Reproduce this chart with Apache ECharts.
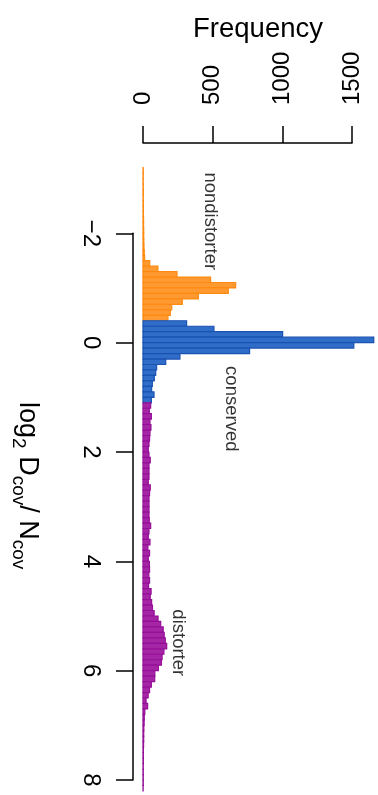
<!DOCTYPE html>
<html>
<head>
<meta charset="utf-8">
<script src="https://cdn.jsdelivr.net/npm/echarts@6/dist/echarts.min.js"></script>
<style>
  html, body { margin: 0; padding: 0; background: #fff; }
  #chart { width: 378px; height: 795px; }
</style>
</head>
<body>
<div id="chart"></div>
<script>
// histogram bins are 0.1 wide on log2(Dcov/Ncov)
var binWidth = 0.1;

// nondistorter bins start at -3.2
var nondistorterStart = -3.2;
var nondistorterCounts = [2, 2, 2, 2, 3, 2, 3, 3, 3, 4, 4, 5, 5, 6, 7, 9, 12, 48, 107, 244,
    485, 665, 612, 397, 282, 206, 196, 179];

// conserved bins start at -0.4
var conservedStart = -0.4;
var conservedCounts = [313, 509, 1002, 1656, 1513, 765, 265, 163, 98, 91, 81, 67, 62, 79, 60];

// distorter bins start at 1.1
var distorterStart = 1.1;
var distorterCounts = [55, 45, 60, 50, 57, 50, 47, 43, 38,
    43, 52, 43, 43, 43, 38, 52, 47, 43, 43,
    43, 43, 45, 55, 43, 38, 50, 35, 47, 38,
    46, 47, 42, 47, 40, 58, 52, 62, 68, 80,
    108, 127, 145, 152, 160, 170, 150, 137, 132, 110,
    85, 84, 60, 47, 37, 22, 33, 13, 9, 8,
    6, 5, 5, 4, 3, 3, 3, 2, 2, 2,
    2, 1];

var freqTicks = [0, 500, 1000, 1500];
var logTicks = [-2, 0, 2, 4, 6, 8];

// text labels placed in data coordinates
var annotNames = ['nondistorter', 'conserved', 'distorter'];
var annotFreq = [483, 633, 250];
var annotLog = [-2.22, 1.21, 5.49];

var FONT = '"Liberation Sans", Arial, Helvetica, sans-serif';

function toBins(start, counts) {
    var out = [];
    for (var i = 0; i < counts.length; i++) {
        var lo = +(start + i * binWidth).toFixed(2);
        out.push([lo, +(lo + binWidth).toFixed(2), counts[i]]);
    }
    return out;
}

function renderBin(params, api) {
    var p0 = api.coord([0, api.value(0)]);
    var p1 = api.coord([api.value(2), api.value(1)]);
    return {
        type: 'rect',
        shape: {
            x: p0[0],
            y: Math.min(p0[1], p1[1]),
            width: p1[0] - p0[0],
            height: Math.abs(p1[1] - p0[1])
        },
        style: api.style()
    };
}

function histSeries(name, data, fill, stroke) {
    return {
        name: name,
        type: 'custom',
        renderItem: renderBin,
        clip: false,
        encode: { x: 2, y: [0, 1] },
        itemStyle: { color: fill, borderColor: stroke, borderWidth: 1.2 },
        data: data,
        silent: true
    };
}

var annotData = annotNames.map(function (n, i) {
    return { value: [annotFreq[i], annotLog[i]], name: n };
});

var chart = echarts.init(document.getElementById('chart'), null, { renderer: 'canvas' });

chart.setOption({
    animation: false,
    backgroundColor: '#ffffff',
    textStyle: { fontFamily: FONT, color: '#000' },
    grid: { left: 143, top: 233.3, width: 209, height: 546.7, containLabel: false },
    xAxis: {
        type: 'value',
        position: 'top',
        offset: 90.3,
        min: freqTicks[0],
        max: freqTicks[freqTicks.length - 1],
        interval: 500,
        splitLine: { show: false },
        axisLine: { show: true, onZero: false, lineStyle: { color: '#000', width: 1.5 } },
        axisTick: { show: true, length: 17, lineStyle: { color: '#000', width: 1.5 } },
        axisLabel: {
            rotate: -90, margin: 38, fontSize: 24, color: '#000', fontFamily: FONT,
            showMinLabel: true, showMaxLabel: true,
            formatter: function (v) { return String(v); }
        },
        name: 'Frequency',
        nameLocation: 'middle',
        nameGap: 98,
        nameTextStyle: { fontSize: 27.5, color: '#000', fontFamily: FONT, padding: [0, 0, 0, 21] }
    },
    yAxis: {
        type: 'value',
        position: 'left',
        offset: 10,
        inverse: true,
        min: logTicks[0],
        max: logTicks[logTicks.length - 1],
        interval: 2,
        splitLine: { show: false },
        axisLine: { show: true, onZero: false, lineStyle: { color: '#000', width: 1.5 } },
        axisTick: { show: true, length: 17, lineStyle: { color: '#000', width: 1.5 } },
        axisLabel: {
            rotate: -90, margin: 30, fontSize: 24, color: '#000', fontFamily: FONT,
            showMinLabel: true, showMaxLabel: true,
            formatter: function (v) { return v < 0 ? '\u2212' + (-v) : String(v); }
        },
        name: '{m|log}{s|2}{m| D}{s|cov}{m|/ N}{s|cov}',
        nameLocation: 'middle',
        nameRotate: -90,
        nameGap: 92,
        nameTextStyle: {
            color: '#000',
            padding: [0, 42, 0, 0],
            rich: {
                m: { fontSize: 27, fontFamily: FONT, color: '#000', lineHeight: 32, verticalAlign: 'top' },
                s: { fontSize: 19, fontFamily: FONT, color: '#000', lineHeight: 22, verticalAlign: 'bottom', padding: [14, 0, 0, 0] }
            }
        }
    },
    series: [
        histSeries('nondistorter', toBins(nondistorterStart, nondistorterCounts), '#ff9a33', '#ff8a12'),
        histSeries('conserved', toBins(conservedStart, conservedCounts), '#2f6dc9', '#1a52b2'),
        histSeries('distorter', toBins(distorterStart, distorterCounts), '#a526a5', '#960f99'),
        {
            type: 'scatter',
            symbolSize: 1,
            clip: false,
            itemStyle: { color: 'rgba(0,0,0,0)' },
            silent: true,
            data: annotData,
            labelLayout: { hideOverlap: false },
            label: {
                show: true,
                position: 'inside',
                rotate: -90,
                align: 'center',
                verticalAlign: 'middle',
                fontSize: 18.5,
                fontFamily: FONT,
                color: '#000',
                textBorderWidth: 0,
                formatter: function (p) { return p.name; }
            }
        }
    ]
});
</script>
</body>
</html>
